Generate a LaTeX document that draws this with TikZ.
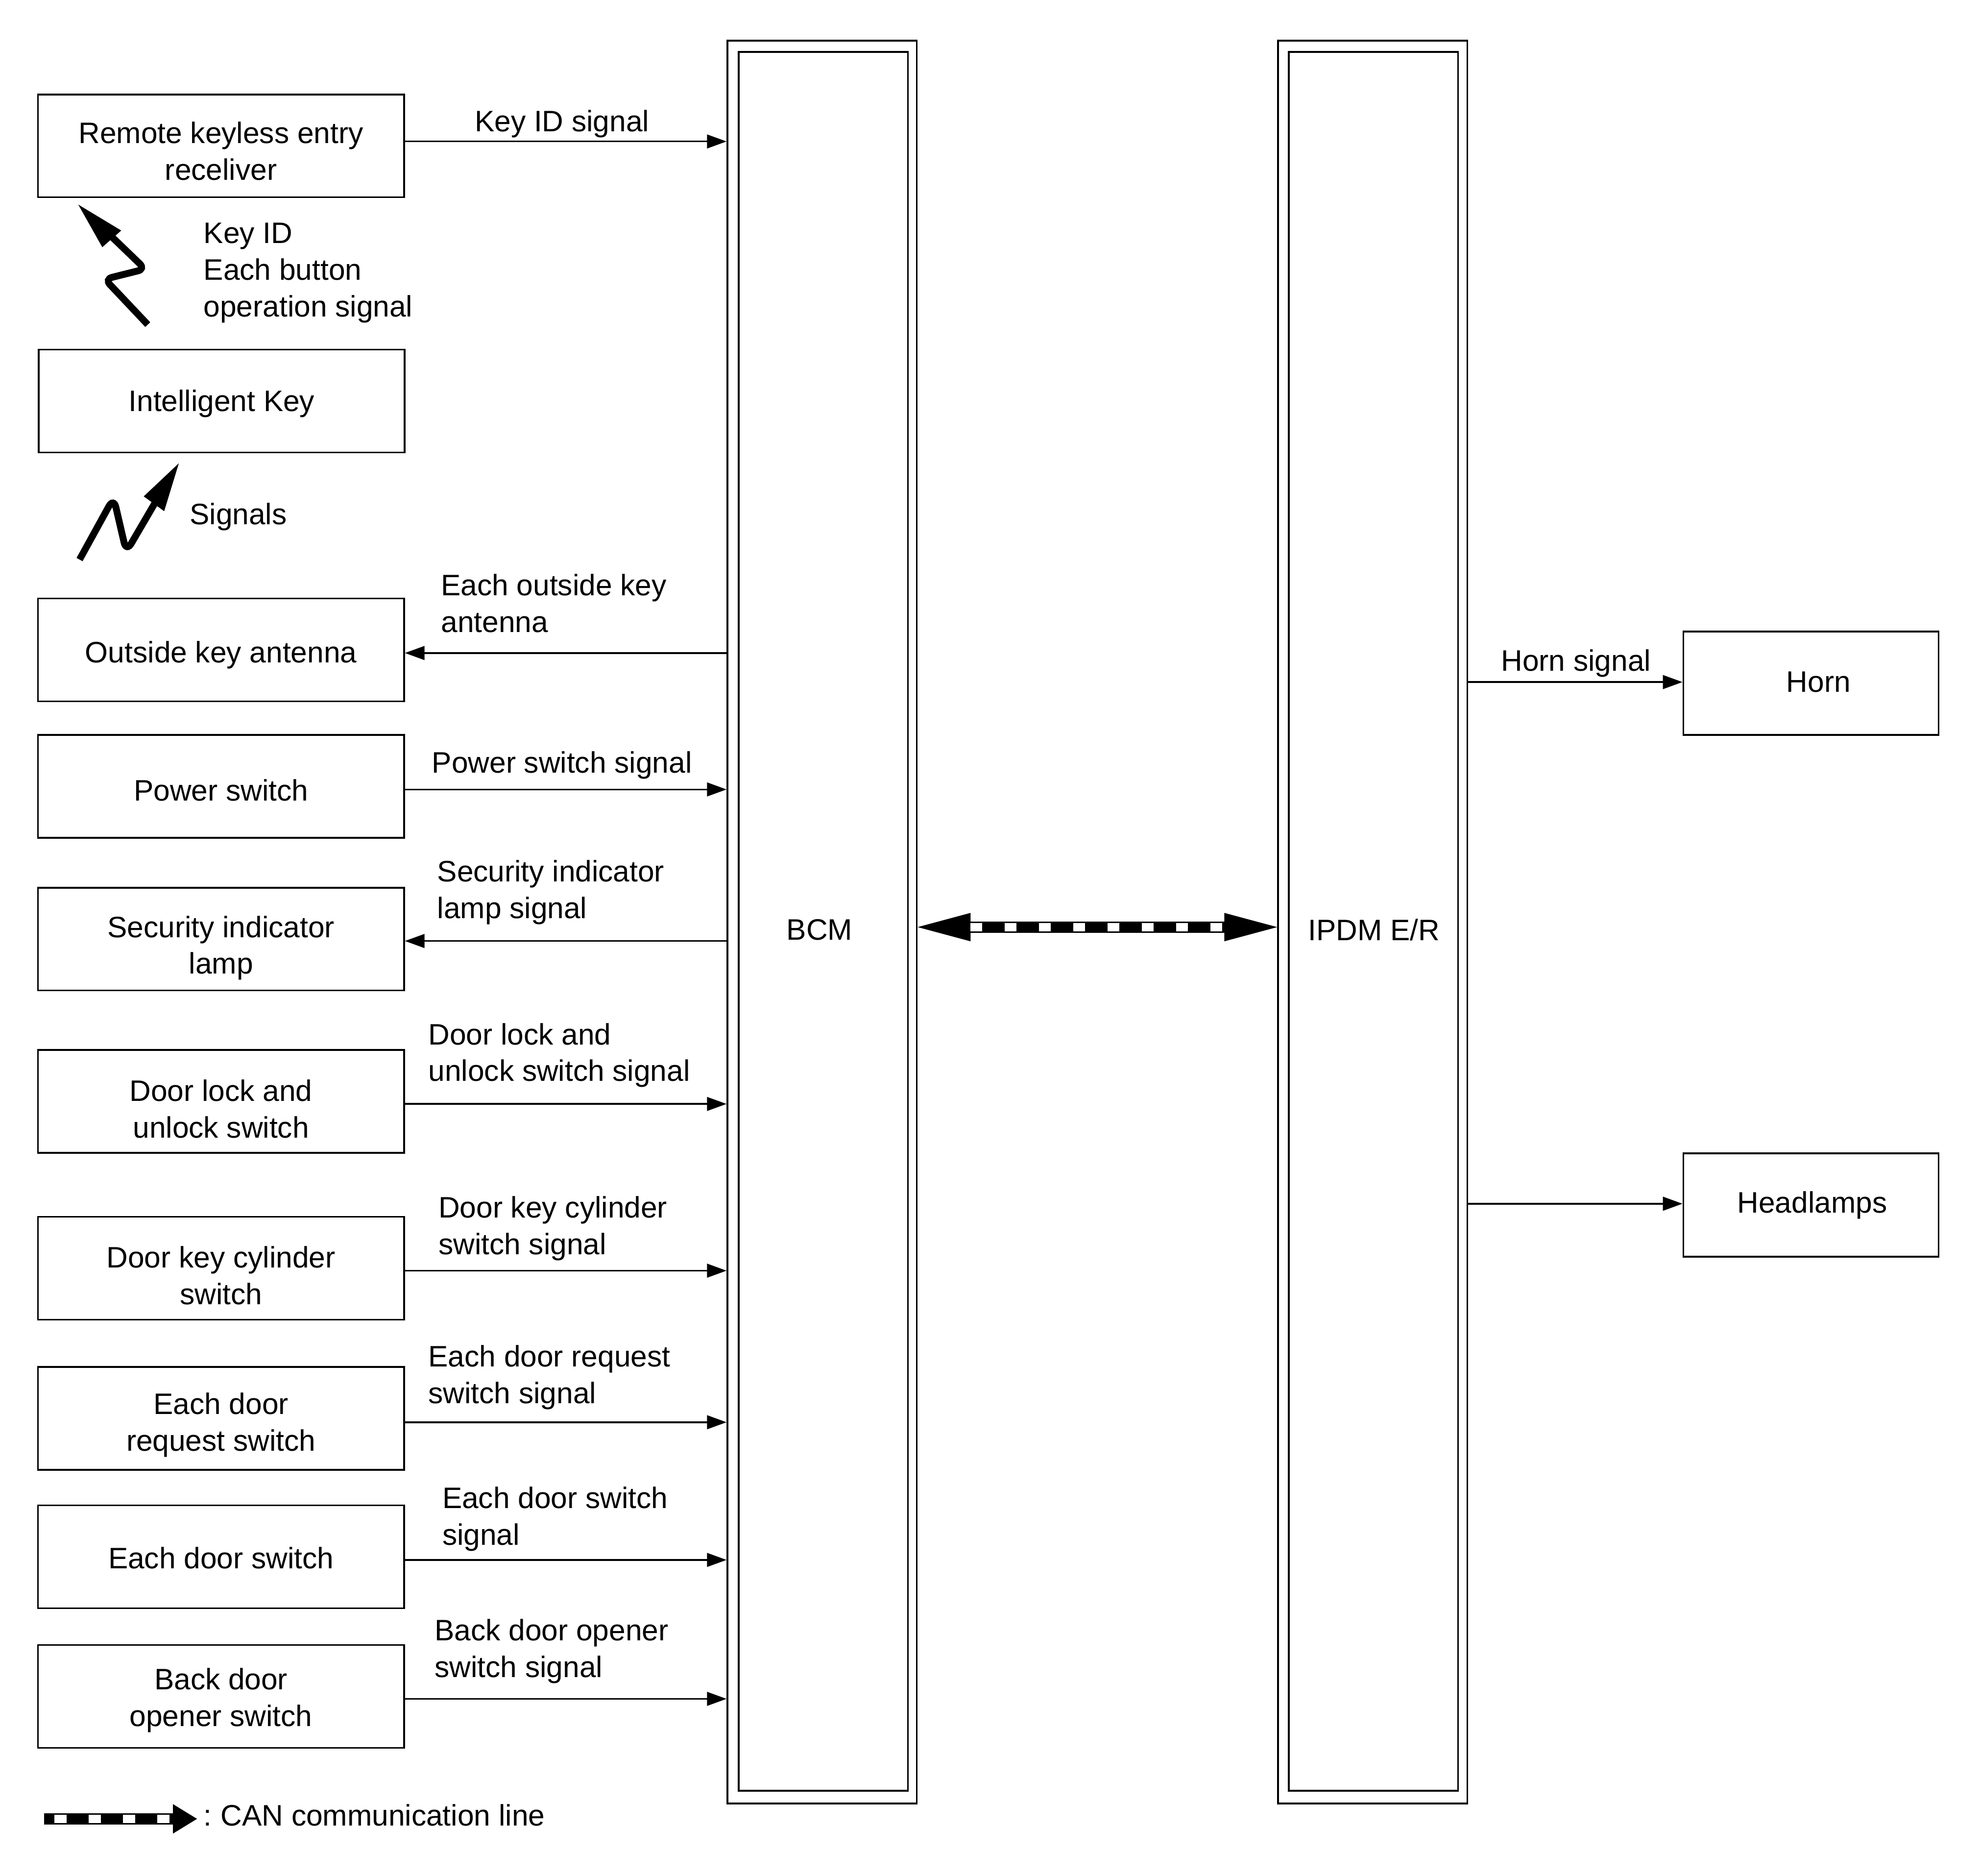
\documentclass[tikz,border=0pt]{standalone}
\usepackage{fontspec}
\setmainfont{Liberation Sans}
\usetikzlibrary{calc,arrows.meta}
\begin{document}
\begin{tikzpicture}[x=0.02578cm,y=-0.02578cm,
  every node/.style={font=\fontsize{17.2pt}{21.3pt}\selectfont, inner sep=0pt},
  box/.style={draw, line width=1pt, minimum width=74.76mm, minimum height=21mm},
  rbox/.style={draw, line width=1pt, minimum width=52.1mm, minimum height=21.1mm},
  txt/.style={align=center},
  ecu/.style={draw, line width=1pt, minimum width=38.67mm, minimum height=359.9mm},
  ecuin/.style={draw, line width=1pt, minimum width=34.55mm, minimum height=355.0mm},
  lbl/.style={align=left, anchor=west},
  sig/.style={-{Triangle[length=4mm,width=2.8mm]}, line width=1pt},
  zig/.style={line width=1.4mm, rounded corners=1.5mm},
]
\fill[white] (0,0) rectangle (1567.1,1484.9);
\useasboundingbox (0,0) rectangle (1567.1,1484.9);

% left boxes
\node[box] (rke) at (175,115.5) {};
\node[txt] (rket) at ($(rke)+(0,4)$) {Remote keyless entry\\receliver};
\node[box] (ikey) at (175.5,317.5) {};
\node[txt] (ikeyt) at ($(ikey)+(0,2)$) {Intelligent Key};
\node[box] (oka) at (175,514.5) {};
\node[txt] (okat) at ($(oka)+(0,4)$) {Outside key antenna};
\node[box] (psw) at (175,622.5) {};
\node[txt] (pswt) at ($(psw)+(0,3)$) {Power switch};
\node[box] (sil) at (175,743.5) {};
\node[txt] (silt) at ($(sil)+(0,7)$) {Security indicator\\lamp};
\node[box] (dlu) at (175,872) {};
\node[txt] (dlut) at ($(dlu)+(0,6)$) {Door lock and\\unlock switch};
\node[box] (dkc) at (175,1004) {};
\node[txt] (dkct) at ($(dkc)+(0,6)$) {Door key cylinder\\switch};
\node[box] (edr) at (175,1123) {};
\node[txt] (edrt) at ($(edr)+(0,5)$) {Each door\\request switch};
\node[box] (eds) at (175,1232.5) {};
\node[txt] (edst) at ($(eds)+(0,1)$) {Each door switch};
\node[box] (bdo) at (175,1343) {};
\node[txt] (bdot) at ($(bdo)+(0,3)$) {Back door\\opener switch};

% control units
\node[ecu] (bcm) at (651,730) {};
\node[ecuin] (bcmi) at (652,729.5) {};
\node (bcmt) at (649,736) {BCM};
\node[ecu] (ipdm) at (1087,730) {};
\node[ecuin] (ipdmi) at (1087.5,729.5) {};
\node (ipdmt) at (1088,736) {IPDM E/R};

% right boxes
\node[rbox] (horn) at (1434,541) {};
\node[txt] (hornt) at ($(horn)+(6,-1)$) {Horn};
\node[rbox] (head) at (1434,954) {};
\node[txt] (headt) at ($(head)+(1,0)$) {Headlamps};

% connectors
\draw[sig] (rke.east |- 0,112) -- (bcm.west |- 0,112);
\draw[sig] (bcm.west |- 0,517) -- (oka.east |- 0,517);
\draw[sig] (psw.east |- 0,625) -- (bcm.west |- 0,625);
\draw[sig] (bcm.west |- 0,745) -- (sil.east |- 0,745);
\draw[sig] (dlu.east |- 0,874) -- (bcm.west |- 0,874);
\draw[sig] (dkc.east |- 0,1006) -- (bcm.west |- 0,1006);
\draw[sig] (edr.east |- 0,1126) -- (bcm.west |- 0,1126);
\draw[sig] (eds.east |- 0,1235) -- (bcm.west |- 0,1235);
\draw[sig] (bdo.east |- 0,1345) -- (bcm.west |- 0,1345);
\draw[sig] (ipdm.east |- 0,540) -- (horn.west |- 0,540);
\draw[sig] (ipdm.east |- 0,953) -- (head.west |- 0,953);

% connector labels
\node (l1) at (445,98) {Key ID signal};
\node[lbl] (l2) at (349,477.5) {Each outside key\\antenna};
\node (l3) at (445,606) {Power switch signal};
\node[lbl] (l4) at (346,706.5) {Security indicator\\lamp signal};
\node[lbl] (l5) at (339,835.5) {Door lock and\\unlock switch signal};
\node[lbl] (l6) at (347,972.5) {Door key cylinder\\switch signal};
\node[lbl] (l7) at (339,1090.5) {Each door request\\switch signal};
\node[lbl] (l8) at (350,1202.5) {Each door switch\\signal};
\node[lbl] (l9) at (344,1307.5) {Back door opener\\switch signal};
\node (l10) at (1248,525) {Horn signal};
\node[lbl] (l11) at (161,216) {Key ID\\Each button\\operation signal};
\node[lbl] (l12) at (150,409) {Signals};

% wireless signal arrows
\draw[zig] (117,257) -- (83,221) -- (115,213) -- (87,186);
\fill (62,162) -- (96,182.5) -- (81,195.7) -- cycle;
\draw[zig, rounded corners=2mm] (63,443) -- (90,394) -- (100,437) -- (124,396);
\fill (141.6,366.8) -- (113.8,393) -- (130,404.7) -- cycle;

% CAN line
\coordinate (canL) at (bcm.east |- 0,734);
\coordinate (canR) at (ipdm.west |- 0,734);
\fill (canL) -- ++(10.8mm,2.9mm) -- ++(0,-5.8mm) -- cycle;
\fill (canR) -- ++(-10.8mm,2.9mm) -- ++(0,-5.8mm) -- cycle;
\draw[line width=2.3mm] ([xshift=10mm]canL) -- ([xshift=-10mm]canR);
\draw[white, line width=1.7mm, dash pattern=on 2.4mm off 4.6mm] ([xshift=10.8mm]canL) -- ([xshift=-10.8mm]canR);

% legend
\coordinate (legS) at (35,1440);
\coordinate (legT) at (156,1440);
\fill (legT) -- ++(-4.9mm,3mm) -- ++(0,-6mm) -- cycle;
\draw[line width=2.3mm] (legS) -- ([xshift=-4.5mm]legT);
\draw[white, line width=1.7mm, dash pattern=on 2.5mm off 4.5mm] ([xshift=2.1mm]legS) -- ([xshift=-4.9mm]legT);
\node[anchor=base west] (legtxt) at (161,1445.5) {:\hspace{0.3em}CAN communication line};
\end{tikzpicture}
\end{document}
